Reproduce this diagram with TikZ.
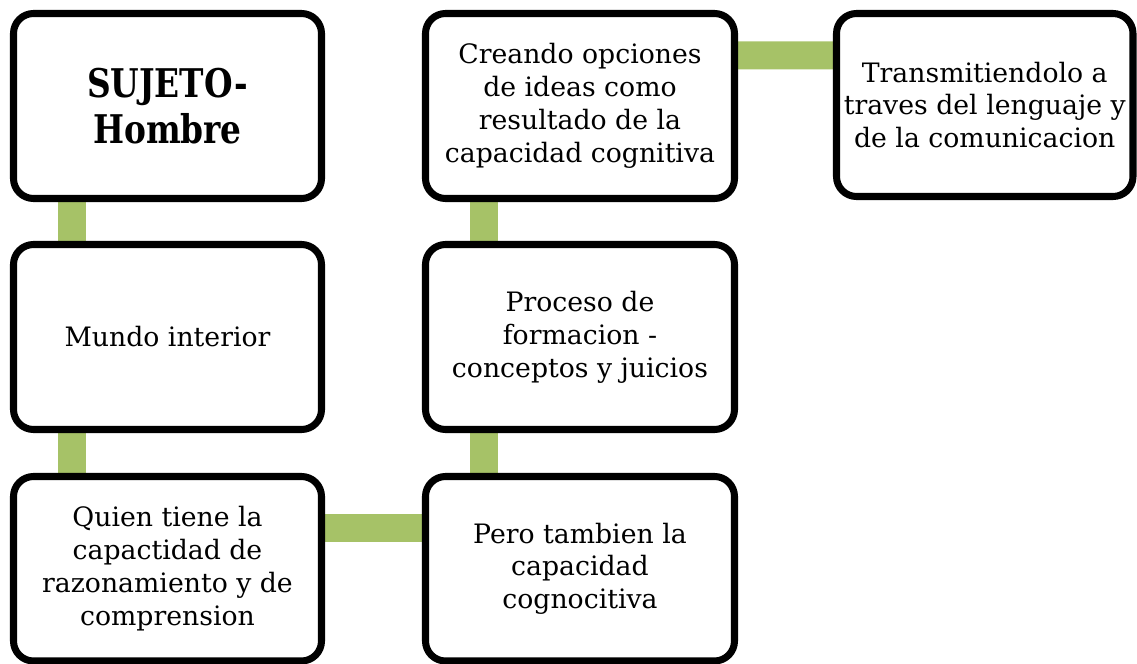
\documentclass[tikz,border=0pt]{standalone}
\usepackage{fontspec}
\setmainfont{DejaVu Serif}
\newfontfamily\titlefont[FakeStretch=0.83]{DejaVu Serif}
\usetikzlibrary{shadows,backgrounds}
\definecolor{linkgreen}{RGB}{166,194,103}

\begin{document}
\begin{tikzpicture}

    % Define some common styles
    \tikzset{
        box/.style={draw=black, line width=4pt, rounded corners=0.4cm, fill=white,
            align=center, inner sep=0pt, minimum width=6.16cm, minimum height=3.7cm,
            font=\fontsize{15.2}{18.7}\selectfont,
            drop shadow={shadow xshift=1pt, shadow yshift=-1.5pt, opacity=0.25}},
        titlebox/.style={box, font=\titlefont\fontsize{22.5}{26.6}\selectfont\bfseries},
        link/.style={draw=linkgreen, line width=0.56cm}
    }

    % Page size
    \useasboundingbox (0,0) rectangle (22.74,-13.28);

    % Left column
    \node[titlebox] (sujeto) at (3.35,-2.12) {SUJETO-\\Hombre};
    \node[box] (mundo) at (3.35,-6.74) {Mundo interior};
    \node[box, minimum height=3.69cm] (quien) at (3.35,-11.375)
        {Quien tiene la\\capactidad de\\razonamiento y de\\comprension};

    % Middle column
    \node[box, minimum width=6.18cm, minimum height=3.69cm] (pero) at (11.6,-11.375)
        {Pero tambien la\\capacidad\\cognocitiva};
    \node[box, minimum width=6.18cm] (proceso) at (11.6,-6.74)
        {Proceso de\\formacion -\\conceptos y juicios};
    \node[box, minimum width=6.18cm] (creando) at (11.6,-2.12)
        {Creando opciones\\de ideas como\\resultado de la\\capacidad cognitiva};

    % Right column
    \node[box, minimum width=5.93cm, minimum height=3.66cm] (transmit) at (19.695,-2.1)
        {Transmitiendolo a\\traves del lenguaje y\\de la comunicacion};

    % Green links behind the boxes
    \begin{pgfonlayer}{background}
        \draw[link] ([xshift=1.25cm]sujeto.south west) -- ([xshift=1.25cm]mundo.north west);
        \draw[link] ([xshift=1.25cm]mundo.south west) -- ([xshift=1.25cm]quien.north west);
        \draw[link] ([yshift=-1.11cm]quien.north east) -- ([yshift=-1.11cm]pero.north west);
        \draw[link] ([xshift=1.25cm]pero.north west) -- ([xshift=1.25cm]proceso.south west);
        \draw[link] ([xshift=1.25cm]proceso.north west) -- ([xshift=1.25cm]creando.south west);
        \draw[link] ([yshift=-0.91cm]creando.north east) -- ([yshift=-0.91cm]transmit.north west);
    \end{pgfonlayer}

\end{tikzpicture}
\end{document}
